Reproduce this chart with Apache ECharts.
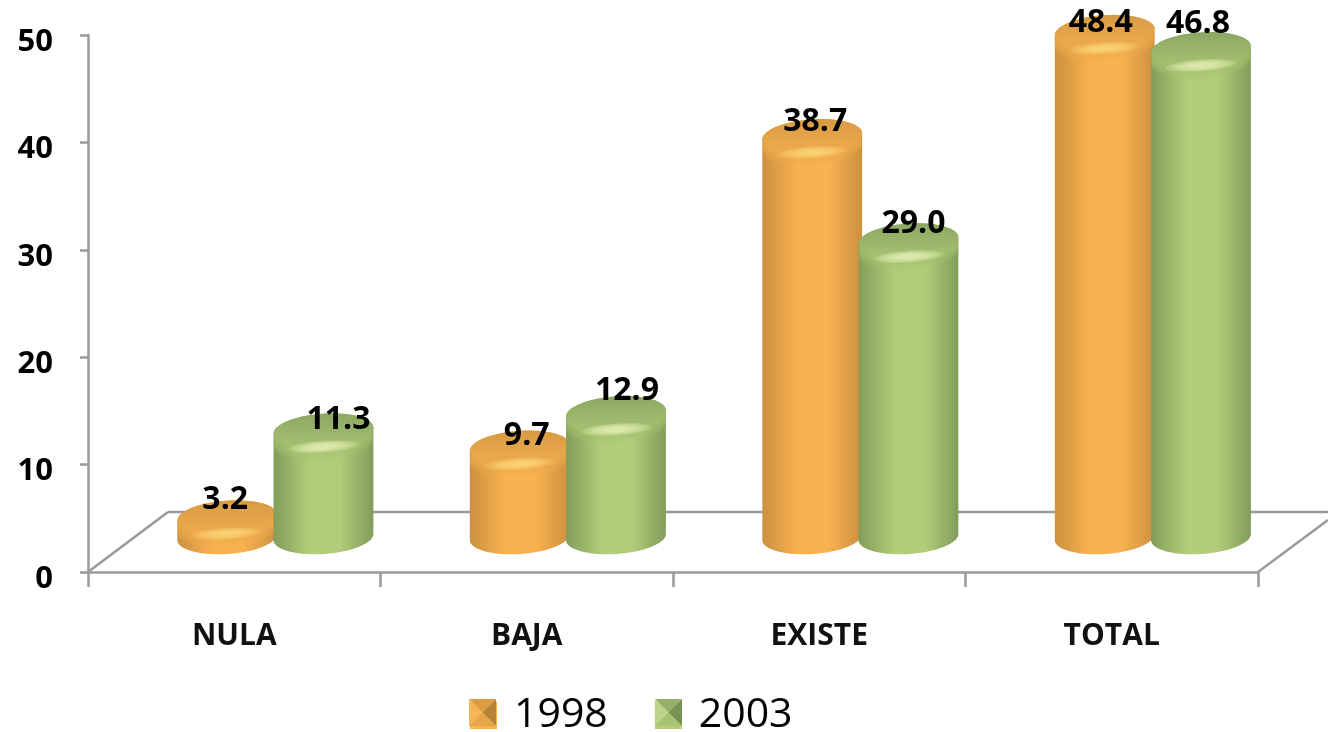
<!DOCTYPE html>
<html lang="en">

<head>
    <meta charset="UTF-8">
    <title>Chart</title>
    <style>
        html, body { margin: 0; padding: 0; background: #fff; }
        #main { width: 1328px; height: 732px; }
    </style>
    <script src="https://cdn.jsdelivr.net/npm/echarts@6/dist/echarts.min.js"></script>
</head>

<body>
    <div id="main"></div>

    <script>
        var categories = ['NULA', 'BAJA', 'EXISTE', 'TOTAL'];
        var values1998 = [3.2, 9.7, 38.7, 48.4];
        var values2003 = [11.3, 12.9, 29.0, 46.8];
        var yTicks = [0, 10, 20, 30, 40, 50];

        // hand placed label shifts (the original labels sit a bit off the cylinders)
        var labelShift1998 = [[-2, -38], [7, -32], [3, -34], [-4, -29]];
        var labelShift2003 = [[15, -31], [11, -43], [5, -37], [-3, -45]];

        var orange = {
            edge: '#cb9040', mid: '#f9b250', capTop: '#d79b45', capFront: '#f0ac4d',
            soft: 'rgba(240,172,77,0.3)',
            glow: 'rgba(255,226,135,0.18)',
            bevel: ['#dc9d43', '#f3b558', '#b58439', '#e6a74a']
        };
        var green = {
            edge: '#829d5a', mid: '#b1cd79', capTop: '#8ca763', capFront: '#a7c272',
            soft: 'rgba(167,194,114,0.3)',
            glow: 'rgba(236,248,190,0.22)',
            bevel: ['#96b06c', '#bdd48a', '#789155', '#a8c374']
        };

        var chart = echarts.init(document.getElementById('main'));

        // point on a slightly tilted ellipse, right side is higher
        function ellipsePoint(cx, cy, rx, ry, t) {
            var tilt = -4 * Math.PI / 180;
            var ct = Math.cos(t), st = Math.sin(t);
            return [
                cx + rx * ct * Math.cos(tilt) - ry * st * Math.sin(tilt),
                cy + rx * ct * Math.sin(tilt) + ry * st * Math.cos(tilt)
            ];
        }

        function ellipsePoints(cx, cy, rx, ry, from, to) {
            var pts = [];
            for (var i = 0; i <= 48; i++) {
                pts.push(ellipsePoint(cx, cy, rx, ry, from + (to - from) * i / 48));
            }
            return pts;
        }

        function fullEllipse(cx, cy, rx, ry, fill) {
            return {
                type: 'polygon',
                shape: { points: ellipsePoints(cx, cy, rx, ry, 0, 2 * Math.PI) },
                style: { fill: fill }
            };
        }

        function cylinderRenderer(bandShift, colors, labelShift) {
            return function (params, api) {
                var idx = api.value(0);
                var val = api.value(1);
                var top = api.coord([idx, val]);
                var zero = api.coord([idx, 0]);
                var band = api.size([1, 0])[0];
                var rx = band * 0.171;
                var ry = 17;
                var cx = top[0] + band * bandShift;
                var capY = top[1] - 20;
                var baseY = zero[1] - 35;

                // body = front half of the base + back half of the top
                var body = ellipsePoints(cx, baseY, rx, ry, 0, Math.PI)
                    .concat(ellipsePoints(cx, capY, rx, ry, Math.PI, 2 * Math.PI));
                var shift = labelShift[params.dataIndex];

                var children = [{
                    type: 'polygon',
                    shape: { points: body },
                    style: {
                        fill: {
                            type: 'linear', x: 0, y: 0, x2: 1, y2: 0,
                            colorStops: [
                                { offset: 0, color: colors.edge },
                                { offset: 0.36, color: colors.mid },
                                { offset: 0.66, color: colors.mid },
                                { offset: 1, color: colors.edge }
                            ]
                        }
                    }
                }];

                // stacked see-through ellipses give the soft rounded shoulder
                var room = Math.max(baseY - capY, 0);
                for (var k = 4; k >= 1; k--) {
                    children.push(fullEllipse(cx, capY + Math.min(k * 3, room), rx, ry, colors.soft));
                }

                children.push({
                    type: 'polygon',
                    shape: { points: ellipsePoints(cx, capY, rx, ry, 0, 2 * Math.PI) },
                    style: {
                        fill: {
                            type: 'linear', x: 0, y: 0, x2: 0, y2: 1,
                            colorStops: [
                                { offset: 0, color: colors.capTop },
                                { offset: 1, color: colors.capFront }
                            ]
                        }
                    }
                });

                var glowY = capY + ry - 1;
                var glowSizes = [[0.7, 6], [0.6, 5.2], [0.5, 4.4], [0.4, 3.6], [0.3, 2.8], [0.2, 2]];
                glowSizes.forEach(function (g) {
                    children.push(fullEllipse(cx, glowY, rx * g[0], g[1], colors.glow));
                });

                children.push({
                    type: 'text',
                    z2: 10,
                    style: {
                        text: val.toFixed(1),
                        x: cx + shift[0],
                        y: top[1] + shift[1],
                        align: 'center',
                        verticalAlign: 'middle',
                        fill: '#000',
                        font: '700 32px "Open Sans"'
                    }
                });

                return { type: 'group', children: children };
            };
        }

        // pyramid look of the legend keys, four triangles on top of the legend icon
        function bevelKey(x, y, size, c) {
            var cx = x + size / 2, cy = y + size / 2, r = x + size, b = y + size;
            var tris = [
                [[x, y], [r, y], [cx, cy]],
                [[x, y], [x, b], [cx, cy]],
                [[r, y], [r, b], [cx, cy]],
                [[x, b], [r, b], [cx, cy]]
            ];
            return tris.map(function (pts, i) {
                return { type: 'polygon', z: 20, shape: { points: pts }, style: { fill: c[i] } };
            });
        }

        function toRows(list) {
            return list.map(function (v, i) { return [i, v]; });
        }

        var axisGray = '#9a9a9a';

        var option = {
            animation: false,
            backgroundColor: '#fff',
            grid: { left: 88, right: 70, top: 35, bottom: 160 },
            legend: {
                left: 465,
                top: 690,
                icon: 'rect',
                itemWidth: 27,
                itemHeight: 27,
                itemGap: 47,
                textStyle: {
                    color: '#000',
                    fontSize: 41,
                    fontFamily: 'Open Sans',
                    padding: [0, 0, 0, 12]
                },
                data: [
                    { name: '1998', itemStyle: { color: orange.mid } },
                    { name: '2003', itemStyle: { color: green.mid } }
                ]
            },
            xAxis: {
                type: 'category',
                data: categories,
                axisLine: { lineStyle: { color: axisGray, width: 2.5 } },
                axisTick: { show: true, alignWithLabel: false, length: 15, lineStyle: { color: axisGray, width: 2.5 } },
                axisLabel: {
                    margin: 49,
                    color: '#111',
                    fontSize: 30,
                    fontWeight: 'bold',
                    fontFamily: 'Open Sans'
                }
            },
            yAxis: {
                type: 'value',
                min: yTicks[0],
                max: yTicks[yTicks.length - 1],
                interval: 10,
                splitLine: { show: false },
                axisLine: { show: true, lineStyle: { color: axisGray, width: 2.5 } },
                axisTick: { show: true, length: 8, lineStyle: { color: axisGray, width: 2.5 } },
                axisLabel: {
                    margin: 35,
                    formatter: '{n|{value}}',
                    rich: {
                        n: {
                            padding: [14, 0, 0, 0],
                            color: '#000',
                            fontSize: 31,
                            fontWeight: 'bold',
                            fontFamily: 'Open Sans'
                        }
                    }
                }
            },
            // floor of the 3d box behind the cylinders, and the legend key bevels
            graphic: [
                { type: 'line', z: 1, shape: { x1: 88, y1: 572, x2: 168, y2: 512 }, style: { stroke: axisGray, lineWidth: 2.5 } },
                { type: 'line', z: 1, shape: { x1: 168, y1: 512, x2: 1328, y2: 512 }, style: { stroke: axisGray, lineWidth: 2.5 } },
                { type: 'line', z: 1, shape: { x1: 1258, y1: 572, x2: 1328, y2: 520 }, style: { stroke: axisGray, lineWidth: 2.5 } }
            ].concat(bevelKey(469, 699, 27, orange.bevel), bevelKey(655, 699, 27, green.bevel)),
            series: [
                {
                    name: '1998',
                    type: 'custom',
                    clip: false,
                    z: 3,
                    encode: { x: 0, y: 1 },
                    data: toRows(values1998),
                    renderItem: cylinderRenderer(-0.024, orange, labelShift1998)
                },
                {
                    name: '2003',
                    type: 'custom',
                    clip: false,
                    z: 4,
                    encode: { x: 0, y: 1 },
                    data: toRows(values2003),
                    renderItem: cylinderRenderer(0.305, green, labelShift2003)
                }
            ]
        };

        chart.setOption(option);
    </script>
</body>

</html>
